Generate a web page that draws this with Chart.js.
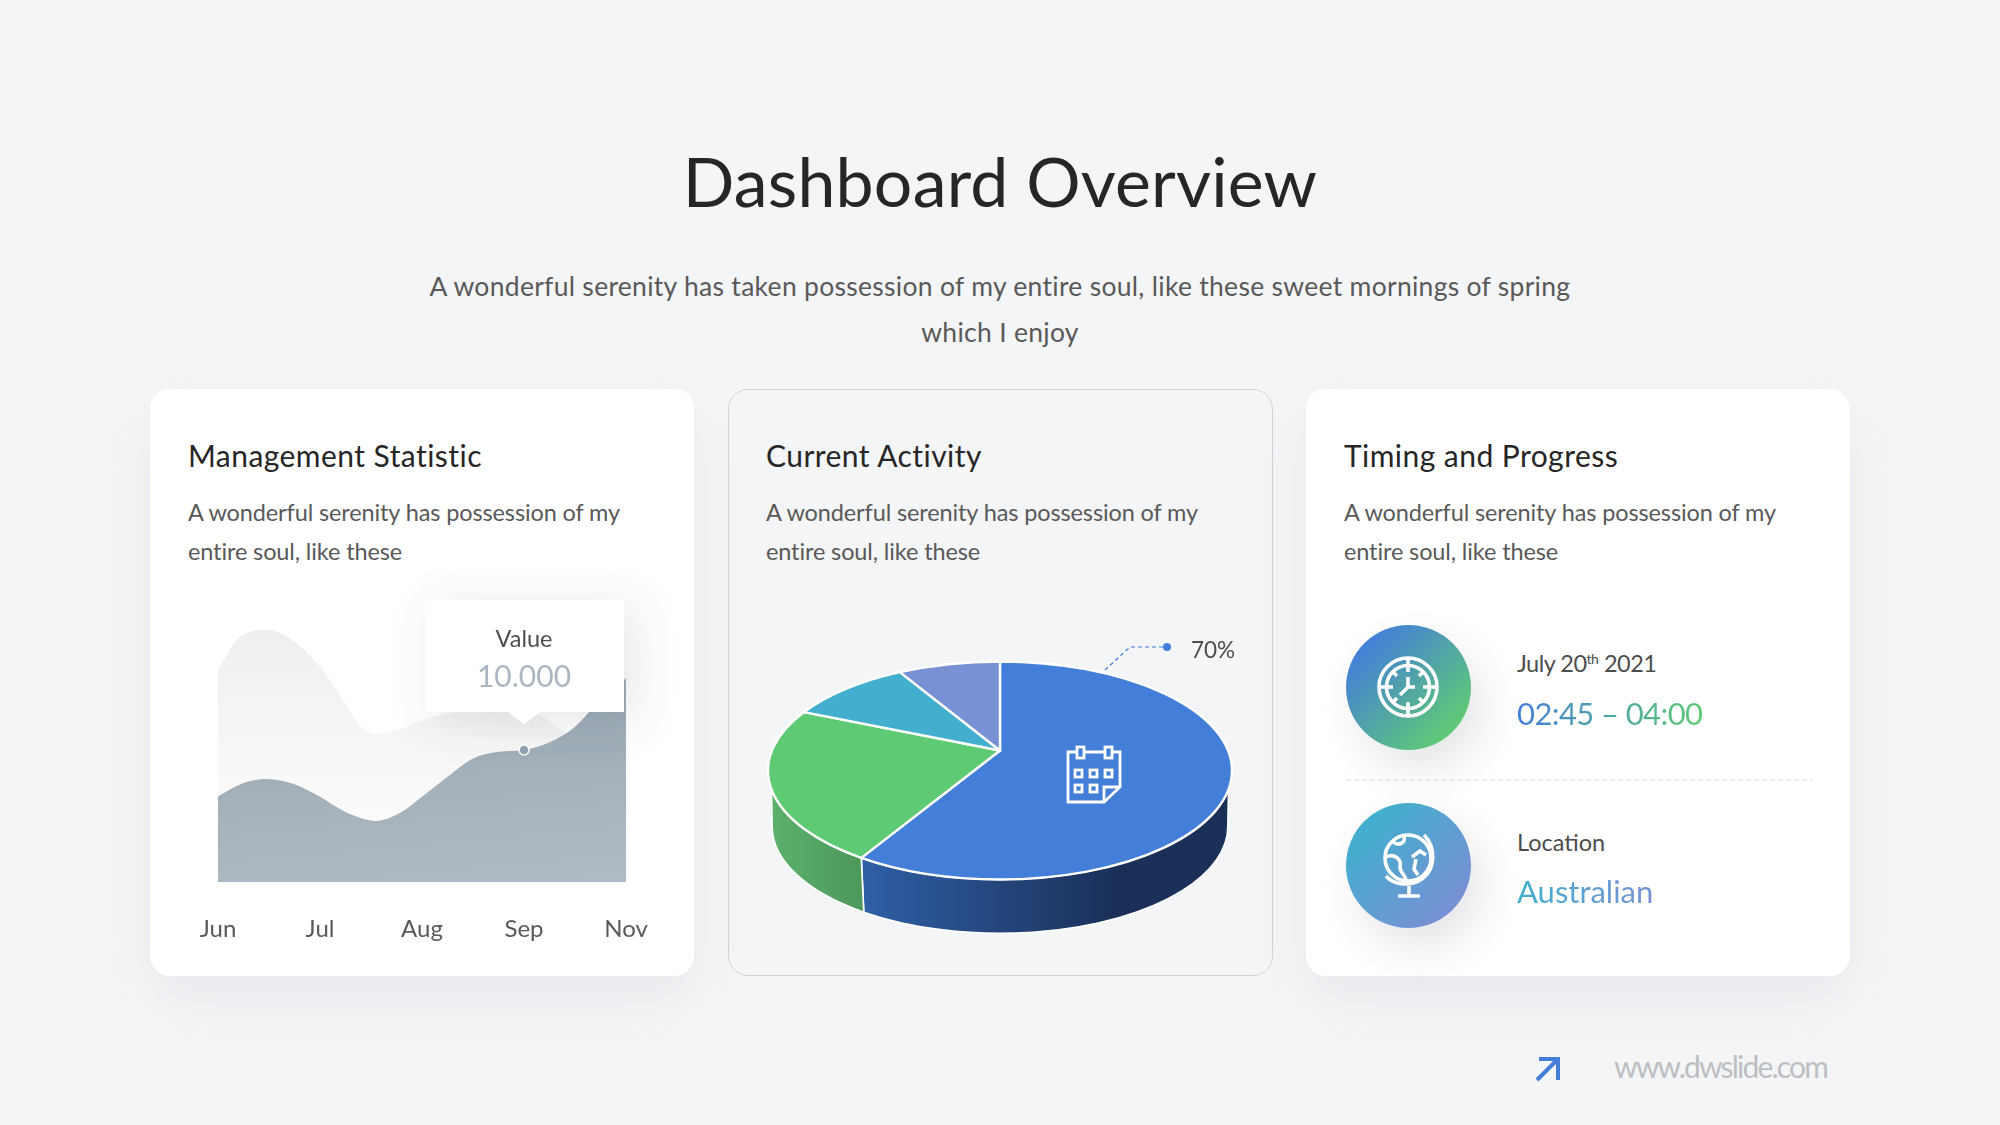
<!DOCTYPE html>
<html>
<head>
<meta charset="utf-8">
<title>Dashboard Overview</title>
<script src="https://cdn.jsdelivr.net/npm/chart.js@4"></script>
<style>
html, body { margin: 0; padding: 0; background: #f4f5f7; }
#stage { position: relative; width: 2000px; height: 1125px; overflow: hidden; background: #f4f5f7; font-family: Lato, "Open Sans", sans-serif; color: #595959; }
#stage > * { position: absolute; }
.t { white-space: nowrap; line-height: 1; }
.c { transform: translateX(-50%); }
.card { top: 389px; height: 587px; border-radius: 20px; box-sizing: border-box; }
.white { background: #fff; box-shadow: 0 24px 60px rgba(90,100,115,.08); }
.cardTitle { font-size: 30px; color: #262626; letter-spacing: .45px; }
.desc { font-size: 23.5px; letter-spacing: -.12px; }
.small { font-size: 23.5px; color: #4d4d4d; }
.circle { width: 125px; height: 125px; border-radius: 50%; box-shadow: 12px 20px 40px rgba(70,80,90,.14); }
.grad1 { background: linear-gradient(90deg, #437fd9, #5fca74); -webkit-background-clip: text; background-clip: text; color: transparent; }
.grad2 { background: linear-gradient(90deg, #41afcd, #7890d4); -webkit-background-clip: text; background-clip: text; color: transparent; }
</style>
</head>
<body>
<div id="stage">
  <div class="t c" style="left:1000px;top:147px;font-size:68px;color:#262626;letter-spacing:.2px">Dashboard Overview</div>
  <div class="t c" style="left:1000px;top:273px;font-size:26.5px;letter-spacing:.29px">A wonderful serenity has taken possession of my entire soul, like these sweet mornings of spring</div>
  <div class="t c" style="left:1000px;top:319px;font-size:26.5px;letter-spacing:.29px">which I enjoy</div>

  <div class="card white" style="left:150px;width:544px"></div>
  <div class="card" style="left:728px;width:545px;border:1px solid #cfd3d8"></div>
  <div class="card white" style="left:1306px;width:544px"></div>

  <div class="t cardTitle" style="left:188px;top:440px">Management Statistic</div>
  <div class="t desc" style="left:188px;top:501px">A wonderful serenity has possession of my</div>
  <div class="t desc" style="left:188px;top:540px">entire soul, like these</div>

  <div class="t cardTitle" style="left:766px;top:440px">Current Activity</div>
  <div class="t desc" style="left:766px;top:501px">A wonderful serenity has possession of my</div>
  <div class="t desc" style="left:766px;top:540px">entire soul, like these</div>

  <div class="t cardTitle" style="left:1344px;top:440px">Timing and Progress</div>
  <div class="t desc" style="left:1344px;top:501px">A wonderful serenity has possession of my</div>
  <div class="t desc" style="left:1344px;top:540px">entire soul, like these</div>

  <canvas id="areaChart" width="490" height="372" style="left:170px;top:600px"></canvas>

  <!-- tooltip box over the area chart -->
  <svg width="300" height="220" style="left:375px;top:560px;overflow:visible">
    <defs><filter id="sh" x="-40%" y="-40%" width="180%" height="180%"><feDropShadow dx="10" dy="8" stdDeviation="22" flood-color="#5a6470" flood-opacity=".16"/></filter></defs>
    <path d="M50 40H249V152H165L149 164L133 152H50Z" fill="#fff" filter="url(#sh)"/>
  </svg>
  <div class="t c" style="left:524px;top:627px;font-size:23.5px;color:#4d4d4d">Value</div>
  <div class="t c" style="left:524px;top:660px;font-size:30px;color:#aab6c1">10.000</div>

  <canvas id="pieChart" width="480" height="481" style="left:760px;top:530px"></canvas>

  <svg width="110" height="50" style="left:1095px;top:635px">
    <path d="M10 35L35 12H72" fill="none" stroke="#437fd9" stroke-width="1.2" stroke-dasharray="4 3"/>
    <circle cx="72" cy="12" r="4" fill="#437fd9"/>
  </svg>
  <div class="t" style="left:1191px;top:639px;font-size:22.5px;color:#4d4d4d">70%</div>

  <!-- calendar icon -->
  <svg width="60" height="60" viewBox="0 0 60 60" style="left:1064px;top:745px" fill="none" stroke="#fff" stroke-width="2.8">
    <path d="M4 7H56V42L40 57H4Z"/><path d="M40 57V42H56"/>
    <rect x="13" y="2" width="7" height="11" fill="#437fd9"/><rect x="41" y="2" width="7" height="11" fill="#437fd9"/>
    <rect x="11" y="25" width="7" height="7"/><rect x="26" y="25" width="7" height="7"/><rect x="41" y="25" width="7" height="7"/>
    <rect x="11" y="40" width="7" height="7"/><rect x="26" y="40" width="7" height="7"/>
  </svg>

  <div class="circle" style="left:1346px;top:625px;background:linear-gradient(135deg,#437fd9 15%,#5fca74 85%)"></div>
  <svg width="80" height="80" viewBox="-40 -40 80 80" style="left:1368px;top:647px" fill="none" stroke="#fff" stroke-width="3.6">
    <circle r="29"/><circle r="21.5"/>
    <path d="M-29 0H-15M29 0H15M0 -29V-15M0 29V15M-15 -15L-11 -11M15 -15L11 -11M-15 15L-11 11M15 15L11 11"/>
    <path d="M0 -10V0L-8 8M0 0H7"/>
  </svg>
  <div class="t small" style="left:1517px;top:652px;letter-spacing:-.5px">July 20<sup style="font-size:14px;line-height:0;vertical-align:8px">th</sup> 2021</div>
  <div class="t grad1" style="left:1517px;top:698px;font-size:31px;letter-spacing:-.6px">02:45 – 04:00</div>

  <svg width="466" height="2" style="left:1346px;top:779px"><line x1="0" y1="1" x2="466" y2="1" stroke="#d4d6d8" stroke-width="1.2" stroke-dasharray="5 3"/></svg>

  <div class="circle" style="left:1346px;top:803px;background:linear-gradient(135deg,#41afcd 15%,#7890d4 85%)"></div>
  <svg width="80" height="80" viewBox="0 0 80 80" style="left:1368px;top:825px" fill="none" stroke="#fff" stroke-width="3.6">
    <circle cx="40" cy="33" r="23"/>
    <path d="M56 10C68 22 68 44 54 54C42 62 26 60 18 51"/>
    <path d="M41 61V70M30 71H52"/>
    <path d="M24 16C30 22 38 18 36 12M18 32C26 28 34 34 32 42C32 48 38 50 38 56M44 32L52 26L58 30M48 34L46 44L50 50"/>
  </svg>
  <div class="t small" style="left:1517px;top:831px">Location</div>
  <div class="t grad2" style="left:1517px;top:876px;font-size:31px">Australian</div>

  <svg width="28" height="28" viewBox="0 0 28 28" style="left:1534px;top:1055px" fill="none" stroke="#437fd9" stroke-width="4">
    <path d="M3 25L23 5M5 4H24V25"/>
  </svg>
  <div class="t" style="left:1614px;top:1051px;font-size:30px;color:#bcbfc3;letter-spacing:-1.8px">www.dwslide.com</div>
</div>

<script>
// area chart, x is position along the month axis
var monthLabels = ['Jun', 'Jul', 'Aug', 'Sep', 'Nov'];
var backX = [0, 0.2, 0.48, 0.75, 1, 1.25, 1.4, 1.55, 1.75, 2, 2.3, 2.55, 2.88, 3.15, 3.4, 3.7, 4];
var backValues = [16060, 18470, 19100, 18200, 16300, 13500, 11760, 11200, 11500, 12270, 12850, 13150, 13150, 12650, 11380, 9500, 8500];
var frontX = [0, 0.25, 0.48, 0.75, 1, 1.25, 1.55, 1.8, 2, 2.25, 2.5, 2.75, 3, 3.25, 3.5, 3.75, 4];
var frontValues = [6500, 7500, 7800, 7400, 6450, 5300, 4630, 5300, 6450, 7970, 9360, 9870, 10000, 10580, 11760, 13800, 15430];
var markerX = 3;
var markerValue = 10000;

// pie chart
var pieNames = ['Blue', 'Green', 'Teal', 'Purple'];
var pieValues = [60.2, 23.8, 8.9, 7.1];
var pieColors = ['#437fd9', '#5fca74', '#41afcd', '#7890d4'];

function zip(xs, ys) {
  var out = [];
  for (var i = 0; i < xs.length; i++) {
    out.push({x: xs[i], y: ys[i]});
  }
  return out;
}

// gradients are in canvas coordinates, canvas starts at 170,600
function backFill(c) {
  var g = c.chart.ctx.createLinearGradient(0, 18, 0, 282);
  g.addColorStop(0, '#eeeeee');
  g.addColorStop(1, '#ffffff');
  return g;
}

function frontFill(c) {
  var g = c.chart.ctx.createLinearGradient(430, 90, 448, 290);
  g.addColorStop(0, '#9ba9b3');
  g.addColorStop(1, '#b1bdc6');
  return g;
}

new Chart(document.getElementById('areaChart'), {
  type: 'line',
  data: {
    datasets: [
      {data: [{x: markerX, y: markerValue}], showLine: false, pointRadius: 5, pointBorderWidth: 1.5, pointBackgroundColor: '#93a2ae', pointBorderColor: '#fff', order: 0},
      {data: zip(frontX, frontValues), fill: 'origin', backgroundColor: frontFill, borderWidth: 0, pointRadius: 0, cubicInterpolationMode: 'monotone', order: 1},
      {data: zip(backX, backValues), fill: 'origin', backgroundColor: backFill, borderWidth: 0, pointRadius: 0, cubicInterpolationMode: 'monotone', order: 2}
    ]
  },
  options: {
    responsive: false,
    animation: false,
    layout: {padding: {left: 48, right: 34, top: 18, bottom: 0}},
    plugins: {legend: {display: false}, tooltip: {enabled: false}},
    scales: {
      x: {
        type: 'linear', min: 0, max: 4,
        grid: {display: false}, border: {display: false},
        // fixed axis size, no extra room for the end labels
        afterFit: function (s) { s.height = 90; s.paddingLeft = 0; s.paddingRight = 0; },
        ticks: {
          stepSize: 1, maxRotation: 0, autoSkip: false, padding: 25,
          color: '#595959', font: {family: 'Lato', size: 24},
          callback: function (v) { return monthLabels[v]; }
        }
      },
      y: {min: 0, max: 20000, display: false}
    }
  }
});

// pie top face sits on an ellipse, apex a bit above its centre like in perspective
var squash = 0.47;
var apexLift = 20;
var wallDepth = 56;
var wallShrink = 0.982;
var wallFrom = 10 * Math.PI / 180;
var wallTo = 170 * Math.PI / 180;
var wallStops = [['#2f5fa6', '#1a3059'], ['#5cb06b', '#4c985b'], null, null];

var pie3d = {
  id: 'pie3d',
  beforeDatasetDraw: function (chart, args) {
    var ctx = chart.ctx;
    var arcs = chart.getDatasetMeta(args.index).data;
    var cx = arcs[0].x, cy = arcs[0].y, rx = arcs[0].outerRadius, ry = rx * squash;
    var bx = rx * wallShrink, by = ry * 0.98, bcy = cy + wallDepth;

    ctx.save();
    ctx.lineJoin = 'round';
    ctx.strokeStyle = '#fff';

    // walls first
    for (var i = 0; i < arcs.length; i++) {
      if (!wallStops[i]) continue;
      var a0 = Math.max(arcs[i].startAngle, wallFrom);
      var a1 = Math.min(arcs[i].endAngle, wallTo);
      var b0 = a0 === wallFrom ? 0 : a0;
      var b1 = a1 === wallTo ? Math.PI : a1;
      var g = ctx.createLinearGradient(cx + bx * Math.cos(b1), 0, cx + bx * Math.cos(b0) * 0.5, 0);
      if (i === 1) g = ctx.createLinearGradient(cx - bx, 0, cx + bx * Math.cos(b0), 0);
      g.addColorStop(0, wallStops[i][0]);
      g.addColorStop(1, wallStops[i][1]);
      ctx.beginPath();
      ctx.ellipse(cx, cy, rx, ry, 0, a0, a1);
      ctx.ellipse(cx, bcy, bx, by, 0, b1, b0, true);
      ctx.closePath();
      ctx.fillStyle = g;
      ctx.fill();
      ctx.lineWidth = 1.6;
      ctx.stroke();
    }

    // top face
    for (var j = 0; j < arcs.length; j++) {
      ctx.beginPath();
      ctx.moveTo(cx, cy - apexLift);
      ctx.ellipse(cx, cy, rx, ry, 0, arcs[j].startAngle, arcs[j].endAngle);
      ctx.closePath();
      ctx.fillStyle = pieColors[j];
      ctx.fill();
      ctx.lineWidth = 2.4;
      ctx.stroke();
    }
    ctx.restore();
    return false;
  }
};

new Chart(document.getElementById('pieChart'), {
  type: 'pie',
  data: {labels: pieNames, datasets: [{data: pieValues, backgroundColor: pieColors, borderWidth: 0}]},
  options: {
    responsive: false,
    animation: false,
    layout: {padding: 8},
    plugins: {legend: {display: false}, tooltip: {enabled: false}}
  },
  plugins: [pie3d]
});
</script>
</body>
</html>
